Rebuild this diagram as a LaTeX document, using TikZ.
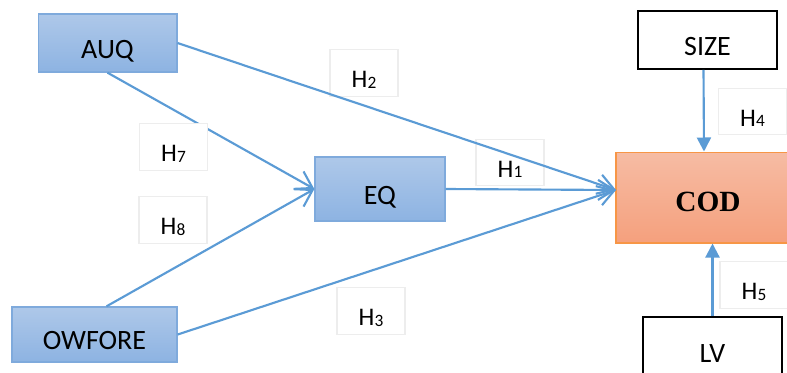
\documentclass[tikz,border=0pt]{standalone}
\usepackage{fontspec}
\setmainfont{Carlito}
\newfontfamily\codfont{Liberation Serif}
\usetikzlibrary{arrows.meta}

\definecolor{linkblue}{HTML}{5B9BD5}
\definecolor{boxtop}{HTML}{AEC8E9}
\definecolor{boxbot}{HTML}{8DB3E2}
\definecolor{boxline}{HTML}{7FAADC}
\definecolor{codtop}{HTML}{F6BCA4}
\definecolor{codbot}{HTML}{F5A07D}
\definecolor{codline}{HTML}{F79646}

\newcommand{\hyplabel}[1]{H\raisebox{-0.5pt}{\fontsize{13}{15}\selectfont #1}}

\tikzset{
  varbox/.style={rectangle, draw=boxline, line width=1pt, top color=boxtop, bottom color=boxbot,
    font=\fontsize{21}{24}\selectfont, inner sep=0pt, text height=22.5pt, text depth=0pt},
  ctrlbox/.style={rectangle, draw=black, line width=1.3pt, fill=white,
    font=\fontsize{21}{24}\selectfont, inner sep=0pt, text height=22.5pt, text depth=0pt},
  hyp/.style={rectangle, draw=black!7, line width=0.8pt, fill=white, minimum width=51pt,
    minimum height=35pt, font=\fontsize{19}{22}\selectfont, inner sep=0pt,
    text height=22pt, text depth=0pt},
  link/.style={draw=linkblue, line width=1.6pt, -{Straight Barb[length=12pt,width=15pt,line width=1.6pt]}},
  push/.style={draw=linkblue, line width=1.6pt, -{Triangle[length=10.5pt,width=10.5pt]}}
}

\begin{document}
\begin{tikzpicture}[x=0.75pt, y=-0.75pt]
  \useasboundingbox (0,0) rectangle (787,372);

  % Define blocks
  \node [varbox, minimum width=104pt, minimum height=43.5pt] (AUQ) at (107.5,43) {AUQ};
  \node [varbox, minimum width=97.5pt, minimum height=48pt] (EQ) at (380,189) {EQ};
  \node [varbox, minimum width=123.75pt, minimum height=41.25pt] (OWFORE) at (94.5,334.5) {OWFORE};
  \node [rectangle, draw=codline, line width=1pt, top color=codtop, bottom color=codbot,
    minimum width=138pt, minimum height=68pt, inner sep=0pt, text height=20.6pt, text depth=0pt,
    font=\codfont\bfseries\fontsize{22}{24}\selectfont] (COD) at (708,197.5) {COD};
  \node [ctrlbox, minimum width=104pt, minimum height=43.5pt] (SIZE) at (707.5,40) {SIZE};
  \node [ctrlbox, minimum width=104pt, minimum height=45pt] (LV) at (712.5,347) {LV};
  \coordinate (codin) at (616,190);

  % Hypothesis labels under the links
  \node [hyp] (H2) at (364,73) {\hyplabel{2}};
  \node [hyp] (H8) at (173,220) {\hyplabel{8}};
  \node [hyp] (H3) at (371,311) {\hyplabel{3}};
  \node [hyp] (H1) at (510,162.5) {\hyplabel{1}};
  \node [hyp] (H4) at (752.5,111.5) {\hyplabel{4}};
  \node [hyp] (H5) at (754,285) {\hyplabel{5}};

  % Connect blocks
  \draw [link] (AUQ.east) -- (codin);
  \draw [link] (EQ.east) -- (codin);
  \draw [link] (OWFORE.east) -- (codin);
  \draw [link] (AUQ.south) -- (EQ.west);
  \draw [link] ([xshift=9pt]OWFORE.north) -- (EQ.west);
  \draw [push] ([xshift=-3pt]SIZE.south) -- ([xshift=-3pt]COD.north);
  \draw [push] (LV.north) -- (LV.north |- COD.south);

  % this one sits over its link
  \node [hyp] (H7) at (173.5,147) {\hyplabel{7}};
\end{tikzpicture}
\end{document}
